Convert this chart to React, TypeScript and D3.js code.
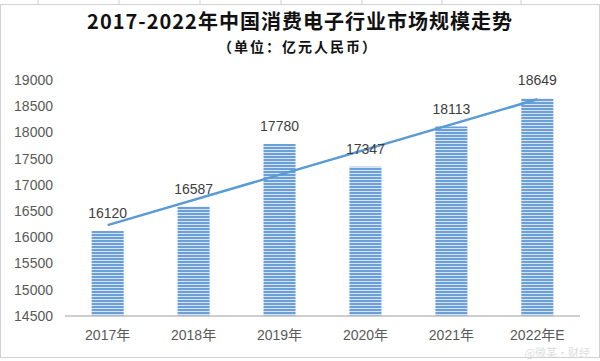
import React from "react";
import * as d3 from "d3";

const years = ["2017年", "2018年", "2019年", "2020年", "2021年", "2022年E"];
const market = [16120, 16587, 17780, 17347, 18113, 18649];
const yTicks = [14500, 15000, 15500, 16000, 16500, 17000, 17500, 18000, 18500, 19000];

const W = 600;
const H = 361;
const FONT = "'Liberation Sans', 'Noto Sans CJK SC', sans-serif";

// linear trendline, like the spreadsheet one
function trend(values: number[]) {
  const xs = values.map((_, i) => i + 1);
  const mx = d3.mean(xs) as number;
  const my = d3.mean(values) as number;
  const slope =
    (d3.sum(xs, (x, i) => (x - mx) * (values[i] - my)) as number) /
    (d3.sum(xs, (x) => (x - mx) * (x - mx)) as number);
  return xs.map((x) => my + slope * (x - mx));
}

export default function App() {
  const x = d3.scaleBand().domain(years).range([65, 580]).paddingInner(0.627).paddingOuter(0.31);
  const y = d3.scaleLinear().domain([14500, 19000]).range([316, 80]);
  const fit = trend(market);
  const mid = (yr: string) => (x(yr) as number) + x.bandwidth() / 2;

  // trendline drawn from first to last category
  const ends = [fit[0], fit[fit.length - 1]];
  const endYears = [years[0], years[years.length - 1]];
  const trendPath = d3
    .line<number>()
    .x((_, i) => mid(endYears[i]))
    .y((d) => y(d))(ends);

  const gridX = [38, 119, 200, 281, 362, 442, 521];

  return (
    <svg width={W} height={H} style={{ position: "absolute", left: 0, top: 0, background: "#fff" }}>
      <defs>
        <pattern id="stripes" width="4" height="3" patternUnits="userSpaceOnUse">
          <rect width="4" height="3" fill="#d6e4f5" />
          <rect width="4" height="2" fill="#6a9fd8" />
        </pattern>
      </defs>
      {gridX.map((gx) => (
        <line key={gx} x1={gx} x2={gx} y1={0} y2={4} stroke="#d0d0d0" />
      ))}
      <rect x={0.5} y={4.5} width={W - 1} height={353} fill="none" stroke="#d0d0d0" />

      <text x={300} y={29} textAnchor="middle" fontFamily="'Noto Sans CJK SC', sans-serif" fontWeight="bold" fontSize={20} letterSpacing={1} fill="#111">
        2017-2022年中国消费电子行业市场规模走势
      </text>
      <text x={298} y={52} textAnchor="middle" fontFamily="'Noto Sans CJK SC', sans-serif" fontWeight="bold" fontSize={14} letterSpacing={2} fill="#111">
        （单位：亿元人民币）
      </text>

      {yTicks.map((t) => (
        <text key={t} x={53} y={y(t)} dy="0.35em" textAnchor="end" fontFamily={FONT} fontSize={14} fill="#595959">
          {t}
        </text>
      ))}

      {market.map((v, i) => (
        <rect key={years[i]} x={x(years[i])} y={y(v)} width={x.bandwidth()} height={y(14500) - y(v)} fill="url(#stripes)" />
      ))}

      <line x1={65} x2={580} y1={316} y2={316} stroke="#bfbfbf" strokeWidth={1.5} />

      {trendPath && <path d={trendPath} fill="none" stroke="#5b9bd5" strokeWidth={2.5} />}

      {market.map((v, i) => (
        <text key={"l" + i} x={mid(years[i])} y={y(v) - 13} textAnchor="middle" fontFamily={FONT} fontSize={14} fill="#404040">
          {v}
        </text>
      ))}

      {years.map((yr) => (
        <text key={yr} x={mid(yr)} y={340} textAnchor="middle" fontFamily={FONT} fontSize={14} fill="#595959">
          {yr}
        </text>
      ))}

      <text x={590} y={357} textAnchor="end" fontFamily="'Noto Sans CJK SC', sans-serif" fontSize={11} fill="#d9d9d9" opacity={0.85}>
        @微某·财经
      </text>
    </svg>
  );
}
